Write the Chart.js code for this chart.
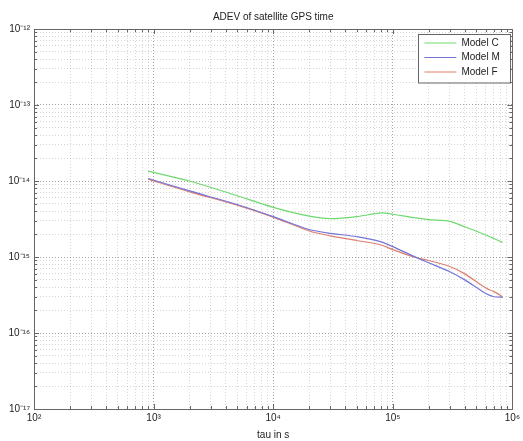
<!DOCTYPE html>
<html lang="en">
<head>
<meta charset="UTF-8">
<title>ADEV of satellite GPS time</title>
<script src="https://cdn.jsdelivr.net/npm/chart.js"></script>
<style>
  html, body { margin: 0; padding: 0; background: #fff; }
  #wrap { width: 523px; height: 441px; }
</style>
</head>
<body>
<div id="wrap"><canvas id="adevChart"></canvas></div>
<script>
// averaging time tau in s
const tau    = [900, 2000, 5000, 1e4, 2e4, 3e4, 5e4, 8e4, 1e5, 1.5e5, 2e5, 3e5, 4e5, 6e5, 7e5, 8.3e5];
const modelC = [1.35e-14, 1.0e-14, 6.4e-15, 4.5e-15, 3.45e-15, 3.2e-15, 3.4e-15, 3.8e-15, 3.65e-15, 3.3e-15, 3.1e-15, 2.95e-15, 2.5e-15, 1.95e-15, 1.75e-15, 1.55e-15];
const modelM = [1.08e-14, 7.4e-15, 4.9e-15, 3.4e-15, 2.3e-15, 2.05e-15, 1.85e-15, 1.58e-15, 1.37e-15, 1.02e-15, 8.4e-16, 6.4e-16, 5.0e-16, 3.3e-16, 3.0e-16, 2.95e-16];
const modelF = [1.06e-14, 7.2e-15, 4.8e-15, 3.35e-15, 2.2e-15, 1.9e-15, 1.65e-15, 1.44e-15, 1.25e-15, 1.0e-15, 9.0e-16, 7.5e-16, 6.0e-16, 3.9e-16, 3.5e-16, 3.0e-16];

const seriesNames  = ['Model C', 'Model M', 'Model F'];
const seriesColors = ['#6fd86f', '#7474d6', '#de7f6e'];

// decades shown on the axes (exponents)
const xDecades = [2, 3, 4, 5, 6];
const yDecades = [-17, -16, -15, -14, -13, -12];

const FONT = 'Liberation Sans, Arial, Helvetica, sans-serif';
const sup = {'-': '⁻', '0': '⁰', '1': '¹', '2': '²', '3': '³', '4': '⁴', '5': '⁵', '6': '⁶', '7': '⁷', '8': '⁸', '9': '⁹'};
const powLabel = e => '10' + String(e).split('').map(c => sup[c]).join('');

function logTicks(decades) {
  const out = [];
  decades.forEach((d, i) => {
    if (i === decades.length - 1) { out.push({value: Math.pow(10, d), major: true, exp: d}); return; }
    for (let m = 1; m <= 9; m++) {
      out.push({value: m * Math.pow(10, d), major: m === 1, exp: d});
    }
  });
  return out;
}

const gridColor = ctx => (ctx.tick && ctx.tick.major) ? 'rgba(0,0,0,0.36)' : 'rgba(0,0,0,0.16)';

// box, inward tick marks on all four sides
const framePlugin = {
  id: 'frame',
  beforeDatasetsDraw(chart) {
    const {ctx, chartArea: a, scales: {x, y}} = chart;
    ctx.save();
    ctx.strokeStyle = '#666';
    ctx.lineWidth = 1;
    ctx.beginPath();
    x.ticks.forEach(t => {
      const px = Math.round(x.getPixelForValue(t.value)) + 0.5;
      const len = t.major ? 5 : 3;
      ctx.moveTo(px, a.bottom); ctx.lineTo(px, a.bottom - len);
      ctx.moveTo(px, a.top); ctx.lineTo(px, a.top + len);
    });
    y.ticks.forEach(t => {
      const py = Math.round(y.getPixelForValue(t.value)) + 0.5;
      const len = t.major ? 5 : 3;
      ctx.moveTo(a.left, py); ctx.lineTo(a.left + len, py);
      ctx.moveTo(a.right, py); ctx.lineTo(a.right - len, py);
    });
    ctx.stroke();
    ctx.strokeRect(Math.round(a.left) + 0.5, Math.round(a.top) + 0.5, Math.round(a.right - a.left), Math.round(a.bottom - a.top));
    ctx.restore();
  }
};

// legend box inside the plot, top right
const boxLegend = {
  id: 'boxLegend',
  afterDraw(chart) {
    const {ctx, chartArea: a} = chart;
    const w = 92, rowH = 14.5;
    const x0 = a.right - w - 2, y0 = a.top + 5;
    const h = chart.data.datasets.length * rowH + 5;
    ctx.save();
    ctx.fillStyle = '#fff';
    ctx.fillRect(x0, y0, w, h);
    ctx.strokeStyle = '#666';
    ctx.lineWidth = 1;
    ctx.strokeRect(Math.round(x0) + 0.5, Math.round(y0) + 0.5, w, h);
    ctx.font = '10px ' + FONT;
    ctx.textBaseline = 'middle';
    ctx.fillStyle = '#222';
    chart.data.datasets.forEach((ds, i) => {
      const cy = y0 + 9 + i * rowH;
      ctx.strokeStyle = ds.borderColor;
      ctx.beginPath();
      ctx.moveTo(x0 + 6, cy); ctx.lineTo(x0 + 38, cy);
      ctx.stroke();
      ctx.fillText(ds.label, x0 + 43, cy);
    });
    ctx.restore();
  }
};

const datasets = [modelC, modelM, modelF].map((vals, i) => ({
  label: seriesNames[i],
  data: tau.map((t, k) => ({x: t, y: vals[k]})),
  borderColor: seriesColors[i],
  backgroundColor: seriesColors[i],
  borderWidth: 1.2,
  pointRadius: 0,
  tension: 0.25,
  fill: false
}));

new Chart(document.getElementById('adevChart'), {
  type: 'line',
  data: {datasets},
  options: {
    responsive: true,
    maintainAspectRatio: false,
    animation: false,
    layout: {padding: {top: 0, right: 9, bottom: 0, left: 0}},
    plugins: {
      legend: {display: false},
      tooltip: {enabled: false},
      title: {
        display: true,
        text: 'ADEV of satellite GPS time',
        fullSize: false,
        color: '#222',
        font: {family: FONT, size: 10, weight: 'normal'},
        padding: {top: 11, bottom: 6}
      }
    },
    scales: {
      x: {
        type: 'logarithmic',
        min: Math.pow(10, xDecades[0]),
        max: Math.pow(10, xDecades[xDecades.length - 1]),
        afterBuildTicks: s => { s.ticks = logTicks(xDecades); },
        afterFit: s => { s.height = 32; },
        grid: {color: gridColor, drawTicks: false, lineWidth: 1},
        border: {display: false, dash: [1, 2]},
        ticks: {
          autoSkip: false, maxRotation: 0, padding: 3, color: '#222',
          font: {family: FONT, size: 10},
          callback: (v, i, ticks) => ticks[i].major ? powLabel(ticks[i].exp) : ''
        },
        title: {display: true, text: 'tau in s', color: '#222', font: {family: FONT, size: 10}, padding: {top: 0, bottom: 0}}
      },
      y: {
        type: 'logarithmic',
        min: Math.pow(10, yDecades[0]),
        max: Math.pow(10, yDecades[yDecades.length - 1]),
        afterBuildTicks: s => { s.ticks = logTicks(yDecades); },
        afterFit: s => { s.width = 34; },
        grid: {color: gridColor, drawTicks: false, lineWidth: 1},
        border: {display: false, dash: [1, 2]},
        ticks: {
          autoSkip: false, padding: 4, color: '#222',
          font: {family: FONT, size: 10},
          callback: (v, i, ticks) => ticks[i].major ? powLabel(ticks[i].exp) : ''
        }
      }
    }
  },
  plugins: [framePlugin, boxLegend]
});
</script>
</body>
</html>
